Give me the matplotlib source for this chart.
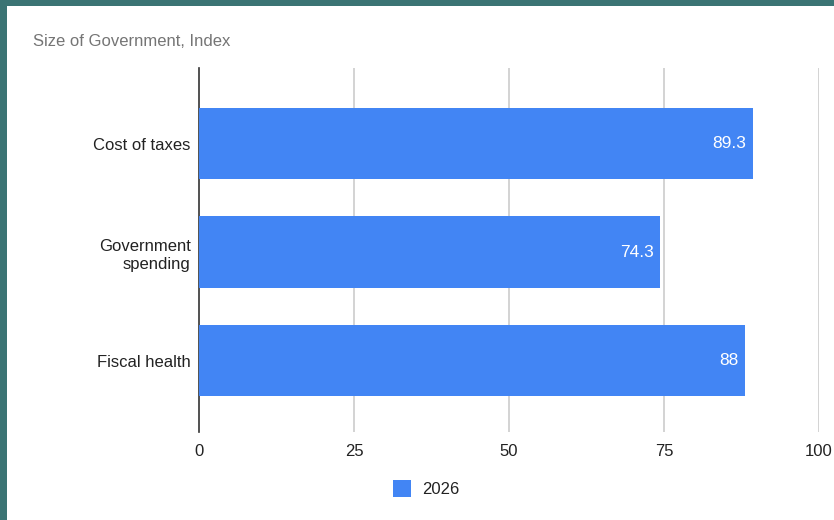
import matplotlib
matplotlib.use("Agg")
import matplotlib.pyplot as plt
from matplotlib.patches import Rectangle

plt.rcParams["font.family"] = ["Liberation Sans", "DejaVu Sans"]

categories = ["Cost of taxes", "Government\nspending", "Fiscal health"]
values_2026 = [89.3, 74.3, 88]
x_ticks = [0, 25, 50, 75, 100]
series_name = "2026"
title = "Size of Government, Index"

W, H = 834, 520
fig = plt.figure(figsize=(W / 100, H / 100), dpi=100)
fig.patch.set_facecolor("#3b7474")

# white card inside the teal frame
fig.add_artist(Rectangle((7 / W, 0), 1 - 7 / W, 1 - 6 / H, transform=fig.transFigure,
                         facecolor="white", edgecolor="none", zorder=0))

left, right = 199 / W, 819 / W
top, bottom = 1 - 68 / H, 1 - 432 / H
ax = fig.add_axes([left, bottom, right - left, top - bottom])
ax.set_facecolor("none")

bar_color = "#4285F4"
ypos = list(range(len(categories)))
ax.barh(ypos, values_2026, height=0.655, color=bar_color, zorder=3)
for y, v in zip(ypos, values_2026):
    ax.text(v - 1.0, y, f"{v:g}", color="white", ha="right", va="center",
            fontsize=12.5, zorder=4)

ax.set_xlim(0, 100)
ax.set_ylim(2.659, -0.696)
ax.set_xticks(x_ticks)
ax.set_xticklabels([str(t) for t in x_ticks], fontsize=12, color="#222222")
ax.set_yticks(ypos)
ax.set_yticklabels(categories, fontsize=12, color="#222222", linespacing=1.25)
ax.tick_params(axis="y", length=0, pad=6)
ax.tick_params(axis="x", length=0, pad=9)
for lbl in ax.get_yticklabels():
    lbl.set_multialignment("right")

for t in x_ticks[1:]:
    ax.axvline(t, color="#cccccc", lw=1.2, zorder=1)
for s in ["top", "right", "bottom"]:
    ax.spines[s].set_visible(False)
ax.spines["left"].set_color("#333333")
ax.spines["left"].set_linewidth(1.2)

fig.text(33 / W, 1 - 42 / H, title, fontsize=12, color="#757575", va="center", ha="left")

# legend
fig.add_artist(Rectangle((393 / W, 1 - 497 / H), 18 / W, 17 / H, transform=fig.transFigure,
                         facecolor=bar_color, edgecolor="none"))
fig.text(422 / W, 1 - 489 / H, series_name, fontsize=12, color="#222222", va="center", ha="left")

fig.savefig("out.png", dpi=100, facecolor=fig.get_facecolor())
